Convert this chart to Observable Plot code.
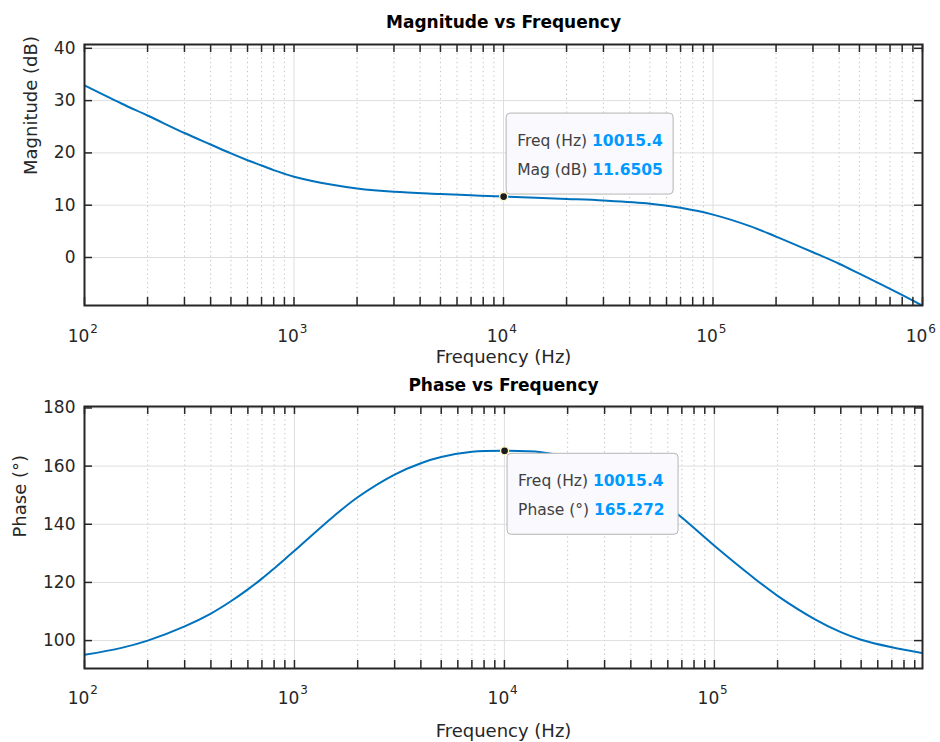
<!DOCTYPE html>
<html>
<head>
<meta charset="utf-8">
<script src="https://cdn.jsdelivr.net/npm/d3@7"></script>
<script src="https://cdn.jsdelivr.net/npm/@observablehq/plot@0.6"></script>
<style>
html, body { margin: 0; padding: 0; background: #fff; }
#chart svg { display: block; }
</style>
</head>
<body>
<div id="chart"></div>
<script>
// ---------- data ----------
const magFreq = [100, 150, 200, 300, 400, 500, 600, 700, 800, 900, 1000, 1500, 2000, 3000, 5000, 7000, 10015.4, 20000, 30000, 50000, 70000, 100000, 150000, 200000, 300000, 400000, 500000, 700000, 1000000];
const magDb   = [32.9, 29.45, 27.15, 23.8, 21.6, 19.9, 18.6, 17.6, 16.7, 16.0, 15.45, 13.95, 13.2, 12.57, 12.15, 11.9, 11.6505, 11.2, 10.9, 10.3, 9.5, 8.2, 6.0, 4.0, 1.0, -1.2, -3.1, -6.0, -9.2];

const phaseFreq = [100, 150, 200, 300, 400, 500, 600, 700, 800, 900, 1000, 1500, 2000, 3000, 4000, 5000, 7000, 10015.4, 15000, 20000, 30000, 40000, 50000, 70000, 100000, 150000, 200000, 300000, 400000, 500000, 700000, 980000];
const phaseDeg  = [95.1, 97.5, 100.0, 104.9, 109.3, 113.6, 117.6, 121.3, 124.8, 128.0, 130.9, 142.1, 149.3, 157.1, 161.0, 163.1, 164.9, 165.272, 164.8, 163.1, 158.9, 155.0, 150.8, 142.3, 132.6, 122.2, 115.4, 107.4, 102.9, 100.3, 97.7, 95.7];

const magTip   = {f: 10015.4, v: 11.6505};
const phaseTip = {f: 10015.4, v: 165.272};

const magTicks   = [0, 10, 20, 30, 40];
const phaseTicks = [100, 120, 140, 160, 180];
const decadeTicks = [1e2, 1e3, 1e4, 1e5, 1e6];
const decadeExponents = ["2", "3", "4", "5", "6"];

const magDomainX = [100, 1e6];
const magDomainY = [-9.18, 40.73];
const phaseDomainX = [100, 9.8e5];
const phaseDomainY = [90.4, 180.5];

// ---------- styling ----------
const FONT = "'DejaVu Sans', 'Noto Sans', sans-serif";
const INK = "#262626";
const TL = 8;

function minorTicksOf(domain) {
  const out = [];
  for (let e = Math.floor(Math.log10(domain[0])); e <= Math.ceil(Math.log10(domain[1])); e++) {
    for (let k = 2; k <= 9; k++) {
      const v = k * Math.pow(10, e);
      if (v > domain[0] && v < domain[1]) out.push(v);
    }
  }
  return out;
}

function tipMark(tip, lines, placement, boxW) {
  return (index, scales) => {
    const px = scales.x(tip.f), py = scales.y(tip.v);
    const h = 81;
    const left = px + 3;
    const top = placement === "above" ? py - 2 - h : py + 3;
    const g = d3.create("svg:g");
    g.append("rect")
      .attr("x", left).attr("y", top)
      .attr("width", boxW).attr("height", h)
      .attr("rx", 4).attr("ry", 4)
      .attr("fill", "#f9f9fe").attr("stroke", "#b5b5b5").attr("stroke-width", 1);
    lines.forEach((ln, i) => {
      const t = g.append("text")
        .attr("x", left + 11)
        .attr("y", top + 27 + i * 29.5)
        .attr("dy", "0.36em")
        .attr("text-anchor", "start")
        .style("text-anchor", "start")
        .attr("font-family", FONT)
        .attr("font-size", 15.5);
      t.append("tspan").attr("fill", "#404040").text(ln.label + " ");
      t.append("tspan").attr("fill", "#0099ff").attr("font-weight", "bold").text(ln.value);
    });
    return g.node();
  };
}

function subplot(o) {
  const data = o.freq.map((f, i) => ({f, v: o.values[i]}));
  const majors = [], exps = [];
  decadeTicks.forEach((t, i) => {
    if (t >= o.xDomain[0] && t <= o.xDomain[1]) { majors.push(t); exps.push(decadeExponents[i]); }
  });
  const minors = minorTicksOf(o.xDomain);
  const allX = majors.concat(minors);
  const plotH = o.height - o.marginTop - o.marginBottom;
  const plotW = 940 - 84 - 18;
  return Plot.plot({
    width: 940,
    height: o.height,
    marginLeft: 84,
    marginRight: 18,
    marginTop: o.marginTop,
    marginBottom: o.marginBottom,
    style: {fontFamily: FONT, fontSize: "17px", color: INK, background: "#fff", overflow: "visible"},
    x: {type: "log", domain: o.xDomain, axis: null},
    y: {domain: o.yDomain, axis: null},
    marks: [
      Plot.gridX(minors, {stroke: "#bdbdbd", strokeOpacity: 1, strokeWidth: 1, strokeDasharray: "1.2,3.3"}),
      Plot.gridX(majors, {stroke: "#dedede", strokeOpacity: 1, strokeWidth: 1}),
      Plot.gridY(o.yTicks, {stroke: "#dedede", strokeOpacity: 1, strokeWidth: 1}),
      Plot.line(data, {x: "f", y: "v", stroke: "#0072BD", strokeWidth: 2, curve: "catmull-rom", clip: true}),
      Plot.tickX(allX, {x: d => d, stroke: INK, strokeWidth: 1.5, insetTop: plotH - TL}),
      Plot.tickX(allX, {x: d => d, stroke: INK, strokeWidth: 1.5, insetBottom: plotH - TL}),
      Plot.tickY(o.yTicks, {y: d => d, stroke: INK, strokeWidth: 1.5, insetRight: plotW - TL}),
      Plot.tickY(o.yTicks, {y: d => d, stroke: INK, strokeWidth: 1.5, insetLeft: plotW - TL}),
      Plot.frame({stroke: INK, strokeWidth: 2}),
      Plot.axisY(o.yTicks, {tickSize: 0, tickPadding: 9, label: null, fontSize: 17}),
      Plot.text(majors, {x: d => d, frameAnchor: "bottom", lineAnchor: "middle", text: () => "10", dx: -6, dy: o.tickDy, fontSize: 17, fill: INK}),
      Plot.text(majors, {x: d => d, frameAnchor: "bottom", lineAnchor: "middle", text: (d, i) => exps[i], dx: 9.5, dy: o.expDy, fontSize: 12, fill: INK}),
      Plot.text([o.title], {frameAnchor: "top", lineAnchor: "middle", dy: o.titleDy, fontWeight: "bold", fontSize: 17, fill: "#000"}),
      Plot.text([o.xLabel], {frameAnchor: "bottom", lineAnchor: "middle", dy: o.xLabelDy, fontSize: 18, fill: INK}),
      Plot.text([o.yLabel], {frameAnchor: "left", lineAnchor: "middle", rotate: -90, dx: o.yLabelDx, fontSize: 18, fill: INK}),
      Plot.dot([o.tip], {x: "f", y: "v", r: 4, fill: "#1c1c1c", stroke: "#fff8c8", strokeWidth: 1.3}),
      tipMark(o.tip, o.tipLines, o.tipPlacement, o.tipW)
    ]
  });
}

const chart = document.getElementById("chart");

chart.appendChild(subplot({
  title: "Magnitude vs Frequency",
  xLabel: "Frequency (Hz)",
  yLabel: "Magnitude (dB)",
  freq: magFreq, values: magDb,
  xDomain: magDomainX, yDomain: magDomainY, yTicks: magTicks,
  height: 370, marginTop: 44, marginBottom: 65,
  titleDy: -22, xLabelDy: 52, tickDy: 31, expDy: 23.5, yLabelDx: -53,
  tip: magTip,
  tipLines: [{label: "Freq (Hz)", value: "10015.4"}, {label: "Mag (dB)", value: "11.6505"}],
  tipPlacement: "above", tipW: 167
}));

chart.appendChild(subplot({
  title: "Phase vs Frequency",
  xLabel: "Frequency (Hz)",
  yLabel: "Phase (°)",
  freq: phaseFreq, values: phaseDeg,
  xDomain: phaseDomainX, yDomain: phaseDomainY, yTicks: phaseTicks,
  height: 372, marginTop: 36, marginBottom: 74,
  titleDy: -21, xLabelDy: 63, tickDy: 30, expDy: 21.5, yLabelDx: -64,
  tip: phaseTip,
  tipLines: [{label: "Freq (Hz)", value: "10015.4"}, {label: "Phase (°)", value: "165.272"}],
  tipPlacement: "below", tipW: 171
}));
</script>
</body>
</html>
